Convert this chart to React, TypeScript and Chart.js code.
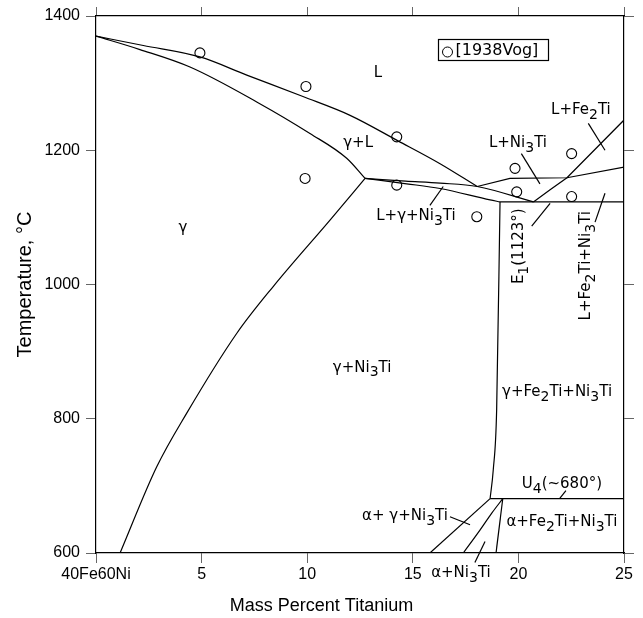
import React, { useEffect, useRef } from 'react';
import { Chart, registerables } from 'chart.js';

Chart.register(...registerables);

// ---- axis ticks ----
const xTickValues = [0, 5, 10, 15, 20, 25];
const xTickLabels = ['40Fe60Ni', '5', '10', '15', '20', '25'];
const yTickValues = [600, 800, 1000, 1200, 1400];
const yTickLabels = ['600', '800', '1000', '1200', '1400'];

// ---- phase boundaries (mass % Ti, °C) ----
const liquidusGammaX = [0, 2.24, 4.92, 7.14, 9.8, 12.03, 14.3, 16.29, 18.05];
const liquidusGammaT = [1370, 1356, 1339, 1312, 1280, 1252, 1214, 1180, 1146];

const solidusX = [0, 2.08, 4.45, 7.61, 10.13, 11.87, 12.74];
const solidusT = [1370, 1350, 1324, 1272, 1225, 1188, 1158];

const solvusX = [1.14, 2.87, 4.29, 6.66, 8.39, 11.08, 12.74];
const solvusT = [600, 728, 808, 927, 997, 1096, 1158];

const threePhaseUpperX = [12.74, 14.66, 16.29, 18.05, 20.71];
const threePhaseUpperT = [1158, 1154, 1151, 1146, 1123];

const threePhaseLowerX = [12.74, 14.71, 16.29, 18.66, 19.13];
const threePhaseLowerT = [1158, 1150, 1143, 1126, 1123];

const liquidusNi3TiX = [18.05, 19.6, 22.3, 25];
const liquidusNi3TiT = [1146, 1158, 1159, 1175];

const liquidusFe2TiX = [20.71, 21.5, 22.3, 25];
const liquidusFe2TiT = [1123, 1141, 1159, 1245];

const eutecticX = [19.13, 25];
const eutecticT = [1123, 1123];

const gammaBoundaryX = [18.66, 18.81, 18.97, 19.13];
const gammaBoundaryT = [681, 724, 813, 1123];

const u4X = [18.66, 25];
const u4T = [681, 681];

const alphaLine1X = [15.81, 18.66];
const alphaLine1T = [600, 681];
const alphaLine2X = [17.39, 18.18, 18.73, 19.26];
const alphaLine2T = [600, 634, 659, 681];
const alphaLine3X = [18.94, 19.26];
const alphaLine3T = [600, 681];

// ---- leader lines ----
const leaderLGNX = [15.81, 16.44];
const leaderLGNT = [1118, 1146];
const leaderLNX = [20.14, 21.02];
const leaderLNT = [1195, 1150];
const leaderLFX = [23.31, 24.1];
const leaderLFT = [1240, 1200];
const leaderE1X = [20.63, 21.5];
const leaderE1T = [1087, 1121];
const leaderLFNX = [23.63, 24.1];
const leaderLFNT = [1093, 1136];
const leaderU4X = [21.95, 22.25];
const leaderU4T = [681, 693];
const leaderAGNX = [16.76, 17.71];
const leaderAGNT = [654, 642];
const leaderANX = [17.94, 18.42];
const leaderANT = [586, 617];

// ---- experimental points [1938Vog] ----
const vogX = [4.92, 9.94, 9.9, 14.24, 14.24, 18.03, 19.84, 19.92, 22.52, 22.52];
const vogT = [1345, 1295, 1158, 1220, 1148, 1101, 1173, 1138, 1195, 1131];

// ---- region labels (text, mass % Ti, °C, rotated) ----
const labelTexts = ['L', 'γ+L', 'γ', 'γ+Ni_3Ti', 'L+γ+Ni_3Ti', 'L+Ni_3Ti', 'L+Fe_2Ti', 'E_1(1123°)', 'L+Fe_2Ti+Ni_3Ti', 'γ+Fe_2Ti+Ni_3Ti', 'U_4(~680°)', 'α+Fe_2Ti+Ni_3Ti', 'α+ γ+Ni_3Ti', 'α+Ni_3Ti'];
const labelX = [13.35, 12.41, 4.12, 12.6, 15.15, 19.98, 22.96, 20.03, 23.2, 21.83, 22.06, 22.06, 14.63, 17.28];
const labelT = [1315, 1211, 1084, 876, 1102, 1211, 1260, 1057, 1028, 840, 703, 646, 655, 570];
const labelRotated = [false, false, false, false, false, false, false, true, true, false, false, false, false, false];

const pts = (xs: number[], ts: number[]) => xs.map((x, i) => ({ x, y: ts[i] }));

const lineDs = (xs: number[], ts: number[], extra: any = {}) => ({
  type: 'scatter' as const,
  data: pts(xs, ts),
  showLine: true,
  borderColor: '#000',
  borderWidth: 1.2,
  pointRadius: 0,
  pointHoverRadius: 0,
  fill: false,
  tension: 0,
  ...extra,
});

const LABEL_FONT = '"DejaVu Sans", sans-serif';

function drawRich(ctx: CanvasRenderingContext2D, text: string, x: number, y: number, rotate: boolean) {
  const parts: { t: string; sub: boolean }[] = [];
  for (let i = 0; i < text.length; i++) {
    const c = text[i];
    if (c === '_' && i + 1 < text.length) {
      parts.push({ t: text[i + 1], sub: true });
      i++;
    } else {
      const last = parts[parts.length - 1];
      if (last && !last.sub) last.t += c;
      else parts.push({ t: c, sub: false });
    }
  }
  const mainFont = `15px ${LABEL_FONT}`;
  const subFont = `14px ${LABEL_FONT}`;
  let total = 0;
  const widths = parts.map((p) => {
    ctx.font = p.sub ? subFont : mainFont;
    const w = ctx.measureText(p.t).width;
    total += w;
    return w;
  });
  ctx.save();
  ctx.translate(x, y);
  if (rotate) ctx.rotate(-Math.PI / 2);
  ctx.fillStyle = '#000';
  ctx.textBaseline = 'middle';
  ctx.textAlign = 'left';
  let cx = -total / 2;
  parts.forEach((p, i) => {
    ctx.font = p.sub ? subFont : mainFont;
    ctx.fillText(p.t, cx, p.sub ? 5 : 0);
    cx += widths[i];
  });
  ctx.restore();
}

const annotationPlugin = {
  id: 'phaseAnnotations',
  afterDatasetsDraw(chart: any) {
    const ctx: CanvasRenderingContext2D = chart.ctx;
    const xs = chart.scales.x;
    const ys = chart.scales.y;
    labelTexts.forEach((t, i) => {
      drawRich(ctx, t, xs.getPixelForValue(labelX[i]), ys.getPixelForValue(labelT[i]), labelRotated[i]);
    });
    // legend box
    const ca = chart.chartArea;
    const bx = ca.left + 342.5;
    const by = ca.top + 23.5;
    ctx.save();
    ctx.strokeStyle = '#000';
    ctx.lineWidth = 1.2;
    ctx.strokeRect(bx, by, 110, 21);
    ctx.beginPath();
    ctx.arc(bx + 9, by + 12.5, 5, 0, Math.PI * 2);
    ctx.lineWidth = 1;
    ctx.stroke();
    ctx.fillStyle = '#000';
    ctx.font = `16px ${LABEL_FONT}`;
    ctx.textBaseline = 'middle';
    ctx.textAlign = 'left';
    ctx.fillText('[1938Vog]', bx + 17, by + 11.5);
    // x-axis title
    ctx.font = '18px "Liberation Sans", Arial, sans-serif';
    ctx.textAlign = 'center';
    ctx.fillText('Mass Percent Titanium', chart.width / 2, 606);
    ctx.restore();
  },
};

export default function App() {
  const ref = useRef<HTMLCanvasElement>(null);
  useEffect(() => {
    if (!ref.current) return;
    const tickFont = { family: '"Liberation Sans", Arial, sans-serif', size: 16 };
    const curve = { cubicInterpolationMode: 'monotone' };
    const chart = new Chart(ref.current, {
      type: 'scatter',
      data: {
        datasets: [
          lineDs(liquidusGammaX, liquidusGammaT, curve),
          lineDs(solidusX, solidusT, curve),
          lineDs(solvusX, solvusT, curve),
          lineDs(threePhaseUpperX, threePhaseUpperT, curve),
          lineDs(threePhaseLowerX, threePhaseLowerT, curve),
          lineDs(liquidusNi3TiX, liquidusNi3TiT),
          lineDs(liquidusFe2TiX, liquidusFe2TiT),
          lineDs(eutecticX, eutecticT),
          lineDs(gammaBoundaryX, gammaBoundaryT, curve),
          lineDs(u4X, u4T),
          lineDs(alphaLine1X, alphaLine1T),
          lineDs(alphaLine2X, alphaLine2T, curve),
          lineDs(alphaLine3X, alphaLine3T),
          lineDs(leaderLGNX, leaderLGNT),
          lineDs(leaderLNX, leaderLNT),
          lineDs(leaderLFX, leaderLFT),
          lineDs(leaderE1X, leaderE1T),
          lineDs(leaderLFNX, leaderLFNT),
          lineDs(leaderU4X, leaderU4T),
          lineDs(leaderAGNX, leaderAGNT),
          lineDs(leaderANX, leaderANT, { clip: false }),
          {
            type: 'scatter' as const,
            data: pts(vogX, vogT),
            showLine: false,
            pointRadius: 5,
            pointHoverRadius: 5,
            pointBorderWidth: 1.1,
            pointBorderColor: '#000',
            pointBackgroundColor: 'rgba(0,0,0,0)',
          },
        ] as any,
      },
      options: {
        animation: false,
        responsive: false,
        devicePixelRatio: 1,
        events: [],
        layout: { padding: 0 },
        plugins: { legend: { display: false }, tooltip: { enabled: false }, title: { display: false } },
        scales: {
          x: {
            type: 'linear',
            position: 'bottom',
            min: 0,
            max: 25,
            afterBuildTicks: (s: any) => {
              s.ticks = xTickValues.map((v) => ({ value: v }));
            },
            ticks: {
              color: '#000',
              font: tickFont,
              padding: 2,
              maxRotation: 0,
              autoSkip: false,
              callback: (v: any) => {
                const i = xTickValues.indexOf(Number(v));
                return i >= 0 ? xTickLabels[i] : '';
              },
            },
            grid: { drawOnChartArea: false, drawTicks: true, tickLength: 10, color: '#666' },
            border: { display: true, color: '#000', width: 1.2 },
            afterFit: (s: any) => {
              s.height = 65;
            },
          },
          y: {
            type: 'linear',
            position: 'left',
            min: 600,
            max: 1400,
            afterBuildTicks: (s: any) => {
              s.ticks = yTickValues.map((v) => ({ value: v }));
            },
            ticks: {
              color: '#000',
              font: tickFont,
              padding: 6,
              callback: (v: any) => {
                const i = yTickValues.indexOf(Number(v));
                return i >= 0 ? yTickLabels[i] : '';
              },
            },
            grid: { drawOnChartArea: false, drawTicks: true, tickLength: 10, color: '#666' },
            border: { display: true, color: '#000', width: 1.2 },
            title: {
              display: true,
              text: 'Temperature, °C',
              color: '#000',
              font: { family: '"Liberation Sans", Arial, sans-serif', size: 20 },
              padding: { top: 13, bottom: 0 },
            },
            afterFit: (s: any) => {
              s.width = 96;
            },
          },
          x2: {
            type: 'linear',
            position: 'top',
            min: 0,
            max: 25,
            afterBuildTicks: (s: any) => {
              s.ticks = xTickValues.map((v) => ({ value: v }));
            },
            ticks: { display: false },
            grid: { drawOnChartArea: false, drawTicks: true, tickLength: 9, color: '#666' },
            border: { display: true, color: '#000', width: 1.2 },
            afterFit: (s: any) => {
              s.height = 16;
            },
          },
          y2: {
            type: 'linear',
            position: 'right',
            min: 600,
            max: 1400,
            afterBuildTicks: (s: any) => {
              s.ticks = yTickValues.map((v) => ({ value: v }));
            },
            ticks: { display: false },
            grid: { drawOnChartArea: false, drawTicks: true, tickLength: 10, color: '#666' },
            border: { display: true, color: '#000', width: 1.2 },
            afterFit: (s: any) => {
              s.width = 19;
            },
          },
        },
      } as any,
      plugins: [annotationPlugin],
    });
    return () => chart.destroy();
  }, []);

  return (
    <div style={{ position: 'absolute', left: 0, top: 0, width: 643, height: 618, background: '#fff' }}>
      <canvas ref={ref} width={643} height={618} style={{ display: 'block', width: 643, height: 618 }} />
    </div>
  );
}
